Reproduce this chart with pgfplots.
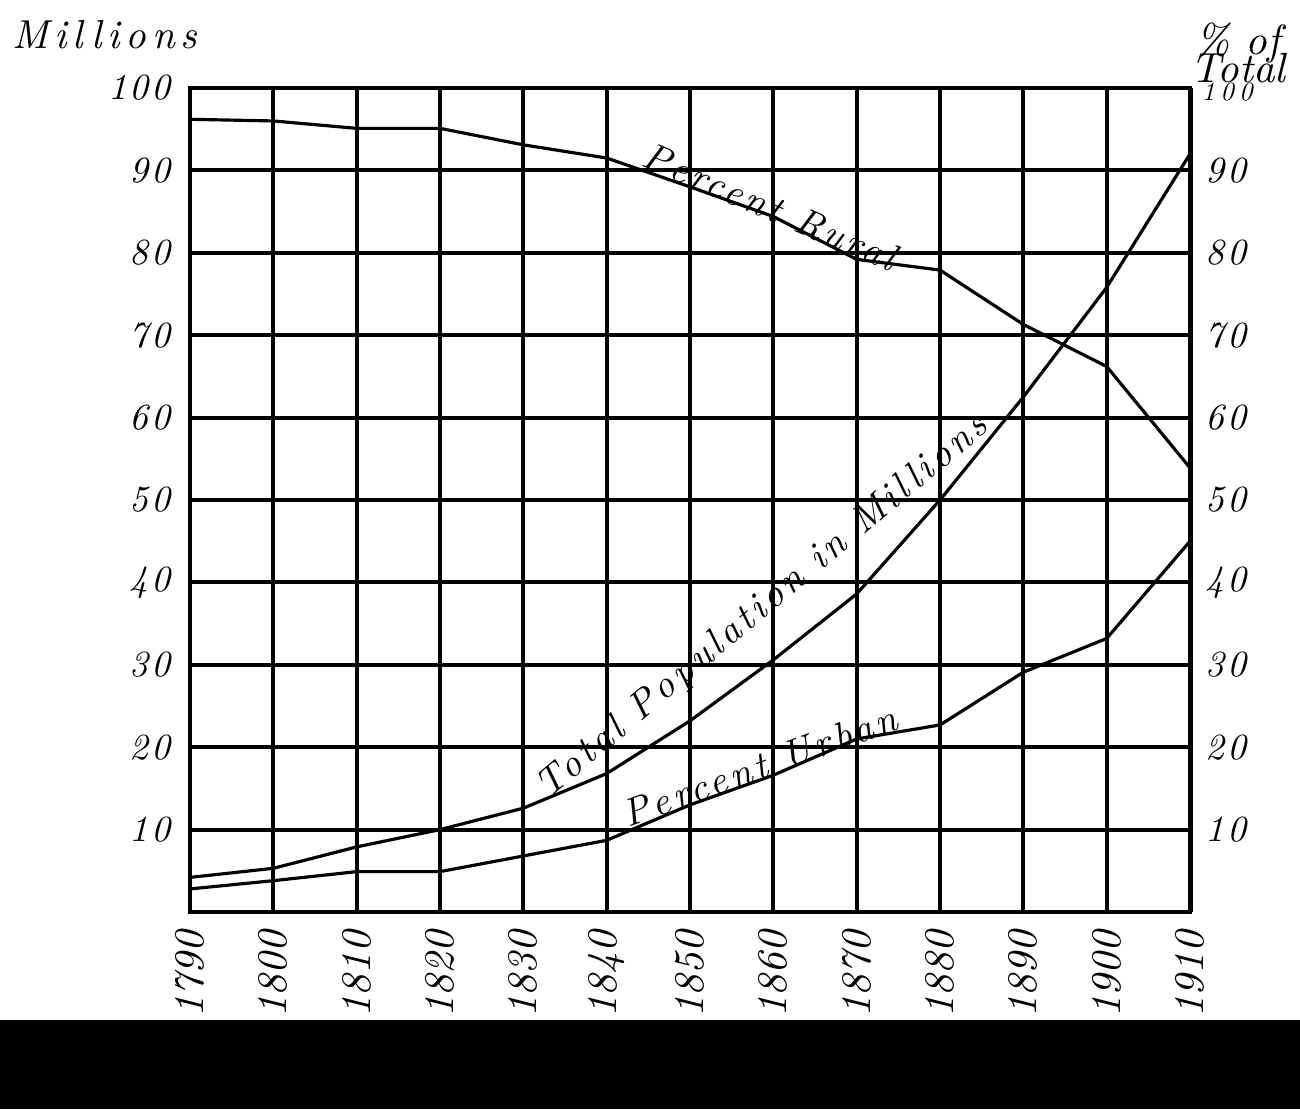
\documentclass[border=0pt]{standalone}
\usepackage{fontspec}
\usepackage{pgfplots}
\usepackage{pgfplotstable}
\pgfplotsset{compat=1.18}
\newfontfamily\hand{lmroman10-italic.otf}
\newcommand{\hwnum}{\fontsize{10.5}{12}\selectfont\hand\addfontfeatures{LetterSpace=8}}
\newcommand{\hwx}{\fontsize{12}{14}\selectfont\hand}
\newcommand{\hwtitle}{\fontsize{11.5}{14}\selectfont\hand\addfontfeatures{LetterSpace=14}}
\newcommand{\hwrural}{\fontsize{11}{13}\selectfont\hand\addfontfeatures{LetterSpace=9}}
\newcommand{\hwtotal}{\fontsize{11}{13}\selectfont\hand\addfontfeatures{LetterSpace=10}}
\newcommand{\hwurban}{\fontsize{11}{13}\selectfont\hand\addfontfeatures{LetterSpace=11}}
\newcommand{\hwright}{\fontsize{12}{14}\selectfont\hand}
\pgfplotstableread{
year total rural urban
1790 4.2 96.2 2.8
1800 5.3 96.0 3.8
1810 7.9 95.1 4.9
1820 10.0 95.1 4.9
1830 12.6 93.1 6.8
1840 16.8 91.5 8.7
1850 23.2 88.0 13.0
1860 30.6 84.4 16.6
1870 38.6 79.2 21.0
1880 50.0 77.9 22.7
1890 62.5 71.3 29.1
1900 75.8 66.2 33.2
1910 92.0 53.9 45.0
}\datatab
\begin{document}
\begin{tikzpicture}[x=1cm,y=1cm]
\path (0,0) rectangle (13,11.09);
\fill[black] (0,0) rectangle (13,0.89);
\begin{axis}[
  at={(1.9cm,1.97cm)}, anchor=south west,
  scale only axis, width=10cm, height=8.24cm,
  xmin=1790, xmax=1910, ymin=0, ymax=100,
  xtick={1790,1800,...,1910},
  xticklabels={1790,1800,1810,1820,1830,1840,1850,1860,1870,1880,1890,1900,1910},
  ytick={10,20,...,100},
  yticklabels={10,20,30,40,50,60,70,80,90,100},
  grid=major,
  major grid style={black, line width=1.1pt},
  axis line style={line width=1.4pt},
  major tick length=0pt,
  xticklabel style={rotate=90, anchor=east, font=\hwx, xshift=-2pt},
  yticklabel style={font=\hwnum, xshift=-2pt},
  clip=false,
]
\addplot[black, line width=0.9pt] table[x=year,y=total]{\datatab};
\addplot[black, line width=0.9pt] table[x=year,y=rural]{\datatab};
\addplot[black, line width=0.9pt] table[x=year,y=urban]{\datatab};
\node[font=\hwrural, rotate=-23, anchor=base west, inner sep=0pt] at (axis cs:1844,90.6) {Percent Rural};
\node[font=\hwtotal, rotate=40, anchor=base west, inner sep=0pt] at (axis cs:1833,13.6) {Total Population in Millions};
\node[font=\hwurban, rotate=20, anchor=base west, inner sep=0pt] at (axis cs:1842.5,10.2) {Percent Urban};
\end{axis}
\begin{axis}[
  at={(1.9cm,1.97cm)}, anchor=south west,
  scale only axis, width=10cm, height=8.24cm,
  xmin=1790, xmax=1910, ymin=0, ymax=100,
  axis x line=none, axis y line*=right,
  axis line style={line width=1.4pt},
  ytick={10,20,...,90},
  yticklabels={10,20,30,40,50,60,70,80,90},
  major tick length=0pt,
  yticklabel style={font=\hwnum, xshift=1pt},
]
\end{axis}
\node[font=\hwtitle] at (1.05,10.74) {Millions};
\node[font=\hwright] at (12.38,10.66) {\% of};
\node[font=\hwright] at (12.38,10.41) {Total};
\node[font=\fontsize{7.5}{9}\selectfont\hand\addfontfeatures{LetterSpace=20}] at (12.27,10.17) {100};
\end{tikzpicture}
\end{document}
